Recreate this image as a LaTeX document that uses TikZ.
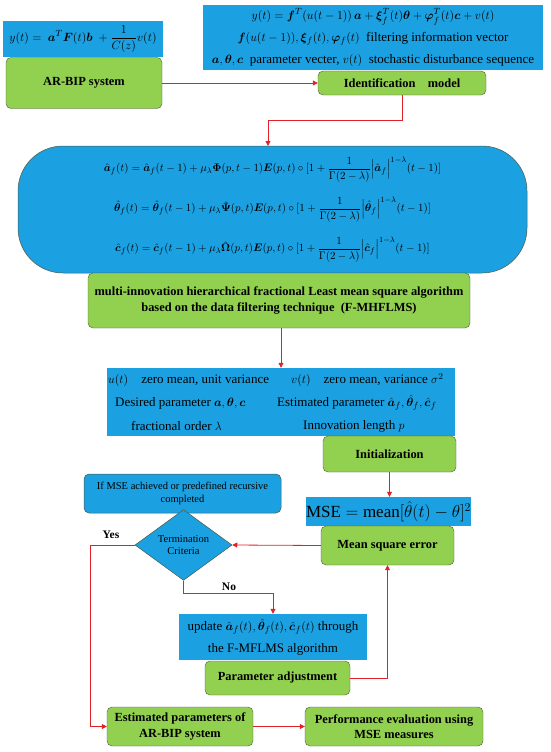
\documentclass[tikz,border=0pt]{standalone}
\usepackage{amsmath,bm}
\usepackage{fontspec}
\setmainfont{Liberation Serif}
\usetikzlibrary{arrows.meta,shapes.geometric}
\definecolor{boxblue}{RGB}{27,161,226}
\definecolor{boxgreen}{RGB}{146,208,80}
\definecolor{edgegray}{RGB}{80,88,66}
\definecolor{linered}{RGB}{222,34,40}
\begin{document}
\begin{tikzpicture}[x=1pt,y=-1pt,
  greenbox/.style={draw=edgegray,fill=boxgreen,rounded corners=5pt,align=center,
    inner sep=0pt,font=\bfseries\fontsize{12.4}{15.5}\selectfont},
  bluebox/.style={fill=boxblue,inner sep=0pt,align=center,font=\fontsize{13}{22}\selectfont},
  bluetext/.style={inner sep=0pt,anchor=west,font=\fontsize{13}{16}\selectfont},
  flow/.style={draw=linered,line width=0.8pt,-{Triangle[width=5pt,length=5pt]}}]
\useasboundingbox (0,0) rectangle (550,752);

% System and model
\node[bluebox,minimum width=160,minimum height=36,font=\fontsize{13}{16}\selectfont] (sysmodel) at (83,39)
  {$y(t)=\ \bm a^{T}\bm F(t)\bm b\ +\dfrac{1}{C(z)}v(t)$};
\node[greenbox,minimum width=156,minimum height=51] (arbip) at (84,83) {AR-BIP system};
\node[bluebox,minimum width=340,minimum height=65] (idmodel) at (373,37.5)
  {$y(t)=\bm f^{T}(u(t-1))\,\bm a+\bm\xi_f^{T}(t)\bm\theta+\bm\varphi_f^{T}(t)\bm c+v(t)$\\
   $\bm f(u(t-1)),\bm\xi_f(t),\bm\varphi_f(t)$\ \ filtering information vector\\
   $\bm a,\bm\theta,\bm c$\ \ parameter vecter, $v(t)$\ \ stochastic disturbance sequence};
\node[greenbox,minimum width=168,minimum height=24] (ident) at (402,83) {Identification\quad model};

% Update equations
\node[fill=boxblue,draw=edgegray,line width=0.5pt,rounded corners=45pt,inner sep=0pt,
  minimum width=509,minimum height=127,align=center,font=\fontsize{11.3}{40}\selectfont]
  (eqs) at (272.5,209.5)
  {$\hat{\bm a}_f(t)=\hat{\bm a}_f(t-1)+\mu_\lambda\bm\Phi(p,t-1)\bm E(p,t)\circ[1+\dfrac{1}{\Gamma(2-\lambda)}\Big|\hat{\bm a}_f\Big|^{1-\lambda}(t-1)]$\\
   $\hat{\bm\theta}_f(t)=\hat{\bm\theta}_f(t-1)+\mu_\lambda\hat{\bm\Psi}(p,t)\bm E(p,t)\circ[1+\dfrac{1}{\Gamma(2-\lambda)}\Big|\hat{\bm\theta}_f\Big|^{1-\lambda}(t-1)]$\\
   $\hat{\bm c}_f(t)=\hat{\bm c}_f(t-1)+\mu_\lambda\hat{\bm\Omega}(p,t)\bm E(p,t)\circ[1+\dfrac{1}{\Gamma(2-\lambda)}\Big|\hat{\bm c}_f\Big|^{1-\lambda}(t-1)]$};
\node[greenbox,minimum width=382,minimum height=55] (fmhflms) at (279,300.5)
  {multi-innovation hierarchical fractional Least mean square algorithm\\
   based on the data filtering technique\ \ (F-MHFLMS)};

% Settings
\node[bluebox,minimum width=348,minimum height=68] (params) at (281,402) {};
\node[bluetext] (noiseu) at (108,380) {$u(t)$\quad zero mean, unit variance};
\node[bluetext] (noisev) at (291,380) {$v(t)$\quad zero mean, variance $\sigma^2$};
\node[bluetext] (desired) at (115,403) {Desired parameter $\bm a,\bm\theta,\bm c$};
\node[bluetext] (estim) at (277,403) {Estimated parameter $\hat{\bm a}_f,\hat{\bm\theta}_f,\hat{\bm c}_f$};
\node[bluetext] (order) at (131,426) {fractional order $\lambda$};
\node[bluetext] (innov) at (303,426) {Innovation length $p$};
\node[greenbox,minimum width=133,minimum height=36] (init) at (389.5,454) {Initialization};

% Error and stopping rule
\node[bluebox,minimum width=163,minimum height=29,font=\fontsize{17}{20}\selectfont] (mseform) at (388.5,511.5)
  {$\mathrm{MSE}=\mathrm{mean}[\hat\theta(t)-\theta]^2$};
\node[greenbox,minimum width=133,minimum height=39] (mse) at (387.5,545.5) {Mean square error};
\node[fill=boxblue,draw=edgegray,line width=0.5pt,rounded corners=5pt,inner sep=0pt,
  minimum width=197,minimum height=39,align=center,font=\fontsize{10.5}{13}\selectfont]
  (stoprule) at (182.5,493.5) {If MSE achieved or predefined recursive\\completed};
\node[diamond,fill=boxblue,draw=edgegray,line width=0.5pt,inner sep=0pt,
  minimum width=97,minimum height=64,align=center,font=\fontsize{10.5}{12.5}\selectfont]
  (term) at (183.5,545) {Termination\\Criteria};

% Adjustment loop
\node[bluebox,minimum width=188,minimum height=46] (update) at (273,637)
  {update $\hat{\bm a}_f(t),\hat{\bm\theta}_f(t),\hat{\bm c}_f(t)$ through\\the F-MFLMS algorithm};
\node[greenbox,minimum width=145,minimum height=34] (adjust) at (277.5,678) {Parameter adjustment};
\node[greenbox,minimum width=146,minimum height=39] (est) at (180,726.5) {Estimated parameters of\\AR-BIP system};
\node[greenbox,minimum width=178,minimum height=39] (perf) at (394,726.5) {Performance evaluation using\\MSE measures};

% Connectors
\draw[flow] (arbip.east) -- (ident.west);
\draw[flow] (ident.south) -- (ident.south |- 0,120.5) -| (268,146);
\draw[flow] (fmhflms.south -| params.north) -- (params.north);
\draw[flow] (init.south) -- (init.south |- mseform.north);
\draw[flow] (mse.west) -- (term.east);
\draw[flow] (term.west) -- (90,545) |- (est.west);
\node[font=\bfseries\fontsize{11.5}{13}\selectfont] (yes) at (111,535) {Yes};
\draw[flow] (term.south) -- (183.5,593) -| (update.north);
\node[font=\bfseries\fontsize{11.5}{13}\selectfont] (no) at (229,587) {No};
\draw[flow] (adjust.east) -| (mse.south);
\draw[flow] (est.east) -- (perf.west);
\end{tikzpicture}
\end{document}
